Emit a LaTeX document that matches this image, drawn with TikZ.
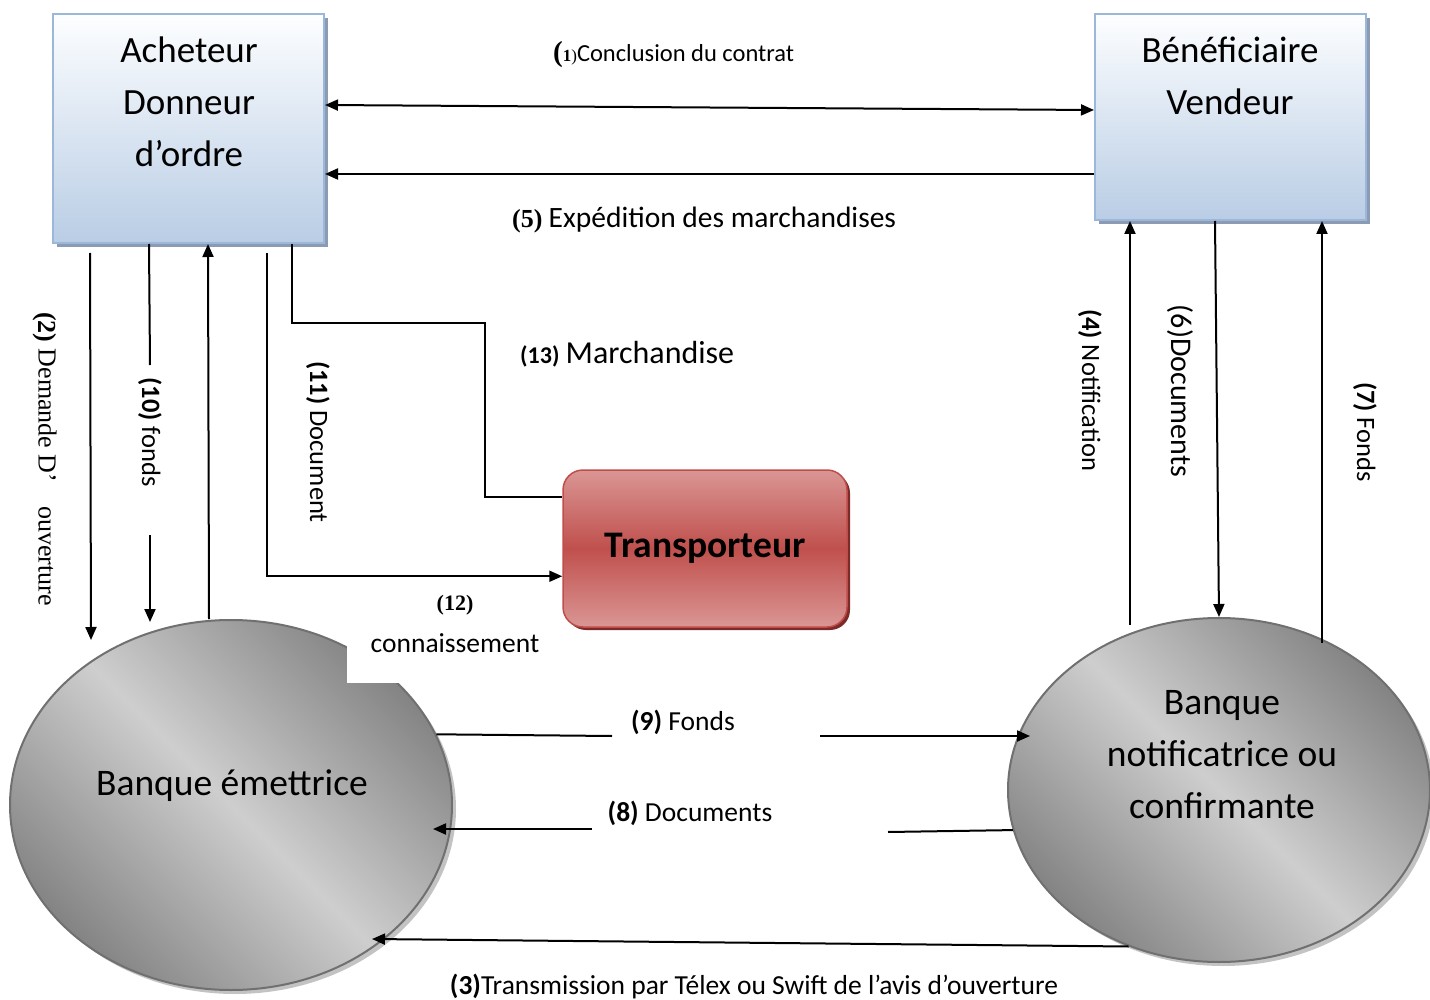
\documentclass[tikz,border=0pt]{standalone}
\usepackage{fontspec}
\setmainfont{Carlito}
\newfontfamily\tnr{Liberation Serif}
\usetikzlibrary{arrows.meta,calc,shapes.geometric,shadows}

\definecolor{boxtop}{RGB}{253,254,255}
\definecolor{boxbot}{RGB}{185,205,229}
\definecolor{boxline}{RGB}{155,183,217}
\definecolor{boxshadow}{RGB}{140,155,180}
\definecolor{trlight}{RGB}{218,150,148}
\definecolor{trmid}{RGB}{192,80,77}
\definecolor{trline}{RGB}{190,78,75}
\definecolor{trshadow}{RGB}{125,42,40}
\definecolor{bkdark}{RGB}{132,132,132}
\definecolor{bklight}{RGB}{206,206,206}
\definecolor{bkline}{RGB}{112,112,112}
\definecolor{bkshadow}{RGB}{195,195,195}

\begin{document}
\begin{tikzpicture}[x=1pt,y=-1pt,
  party/.style={rectangle, draw=boxline, line width=2pt, top color=boxtop,
    bottom color=boxbot, inner sep=0pt,
    drop shadow={shadow xshift=4pt, shadow yshift=-4pt, fill=boxshadow, opacity=1}},
  partytext/.style={align=center, inner sep=0pt, font=\fontsize{37}{52}\selectfont},
  carrier/.style={rectangle, rounded corners=20pt, draw=trline, line width=1.5pt,
    shading=axis, top color=trlight, bottom color=trlight, middle color=trmid,
    inner sep=0pt, minimum width=284pt, minimum height=157pt,
    font=\bfseries\fontsize{37.5}{40}\selectfont,
    drop shadow={shadow xshift=3pt, shadow yshift=-3pt, fill=trshadow, opacity=1}},
  bank/.style={ellipse, draw=bkline, line width=2pt, inner sep=0pt,
    shading=axis, top color=bkdark, bottom color=bkdark, middle color=bklight,
    shading angle=-45,
    drop shadow={shadow xshift=4pt, shadow yshift=-4pt, fill=bkshadow, opacity=1}},
  banktext/.style={align=center, inner sep=0pt, font=\fontsize{37.5}{52}\selectfont},
  lab/.style={inner sep=0pt, font=\fontsize{27.5}{30}\selectfont},
  serlab/.style={inner sep=0pt, font=\tnr\fontsize{26}{30}\selectfont},
  rlab/.style={inner sep=0pt, font=\fontsize{26.5}{30}\selectfont, rotate=-90},
  ln/.style={line width=2pt},
  arr/.style={line width=2pt, -{Triangle[length=13pt,width=11pt]}},
  darr/.style={line width=2pt, {Triangle[length=13pt,width=11pt]}-{Triangle[length=13pt,width=11pt]}}
]
\useasboundingbox (0,0) rectangle (1430,1000);

% the two parties to the contract
\node[party, minimum width=271pt, minimum height=229pt] (ach) at (188.5,128.5) {};
\node[partytext] (achT) at (189,102) {Acheteur\\Donneur\\d’ordre};
\node[party, minimum width=271pt, minimum height=206pt] (ben) at (1230.5,117) {};
\node[partytext] (benT) at (1230,76) {Bénéficiaire\\Vendeur};

% the carrier
\node[carrier] (tr) at (705,548.5) {Transporteur};

% the two banks
\node[bank, minimum width=442pt, minimum height=370pt] (em) at (231,805) {};
\node[banktext] (emT) at (232,786) {Banque émettrice};
\node[bank, minimum width=422pt, minimum height=344pt] (bn) at (1219,790) {};
\node[banktext] (bnT) at (1222,755) {Banque\\notificatrice ou\\confirmante};

% white label area over the issuing bank
\fill[white] (347,585) rectangle (560,683);

% free ends and breaks of the connectors
\coordinate (e2) at (91,640);
\coordinate (g10a) at (150,365);
\coordinate (g10b) at (150,535);
\coordinate (e10) at (150,622);
\coordinate (k13) at (485,323);
\coordinate (s4) at (1130,625);
\coordinate (s7) at (1322,643);
\coordinate (g9a) at (612,736);
\coordinate (g9b) at (820,736);
\coordinate (e9) at (1030,736);
\coordinate (g8a) at (888,832);
\coordinate (g8b) at (592,829);
\coordinate (e8) at (433,829);
\coordinate (e3) at (372,939);

% top connectors
\draw[darr] ($(ach.north east)+(0,92)$) -- ($(ben.north west)+(0,97)$);
\draw[arr] ($(ben.north west)+(0,161)$) -- ($(ach.north east)+(0,161)$);

% buyer side
\draw[arr] ($(ach.south west)+(38,9)$) -- (e2);
\draw[ln] ($(ach.south west)+(97,0)$) -- (g10a);
\draw[arr] (g10b) -- (e10);
\draw[arr] ($(em.north)+(-22,0)$) -- ($(ach.south west)+(156,0)$);
\draw[arr] ($(ach.south west)+(215,9)$) |- ($(tr.north west)+(0,107)$);
\draw[ln] ($(ach.south west)+(240,0)$) |- (k13) |- ($(tr.north west)+(0,28)$);

% seller side
\draw[arr] (s4) -- (s4 |- ben.south);
\draw[arr] ($(ben.south west)+(121,0)$) -- (bn.north);
\draw[arr] (s7) -- (s7 |- ben.south);

% between the banks
\draw[ln] (em.19) -- (g9a);
\draw[arr] (g9b) -- (e9);
\draw[ln] (bn.191) -- (g8a);
\draw[arr] (g8b) -- (e8);
\draw[arr] (bn.240.5) -- (e3);

% labels
\node[lab, anchor=west] (l1) at (553,55) {{\tnr\bfseries\fontsize{29}{29}\selectfont(}{\tnr\bfseries\fontsize{17}{17}\selectfont 1}{\tnr\fontsize{17}{17}\selectfont)}{\fontsize{24.5}{25}\selectfont Conclusion du contrat}};
\node[lab, anchor=west] (l5) at (512,220) {{\tnr\bfseries\fontsize{26}{26}\selectfont(5)} {\fontsize{29.5}{30}\selectfont Expédition des marchandises}};
\node[serlab, rotate=-90] (l2) at (45,459) {{\bfseries(2)} Demande D’\hspace{24pt}ouverture};
\node[rlab] (l10) at (150,432) {\textbf{(10)} fonds};
\node[rlab] (l11) at (318,442) {\textbf{(11)} Document};
\node[lab, anchor=west] (l13) at (520,354) {{\bfseries\fontsize{24}{24}\selectfont(13)} {\fontsize{32}{32}\selectfont Marchandise}};
\node[serlab, font=\tnr\bfseries\fontsize{22}{24}\selectfont] (l12a) at (455,605) {(12)};
\node[lab] (l12b) at (455,643) {connaissement};
\node[rlab] (l4) at (1090,390) {\textbf{(4)} Notification};
\node[rlab, font=\fontsize{30}{34}\selectfont] (l6) at (1180,391) {(6)Documents};
\node[rlab] (l7) at (1365,432) {\textbf{(7)} Fonds};
\node[lab] (l9) at (683,722) {\textbf{(9)} Fonds};
\node[lab] (l8) at (690,813) {\textbf{(8)} Documents};
\node[lab] (l3) at (754,987) {\textbf{(3)}Transmission par Télex ou Swift de l’avis d’ouverture};
\end{tikzpicture}
\end{document}
